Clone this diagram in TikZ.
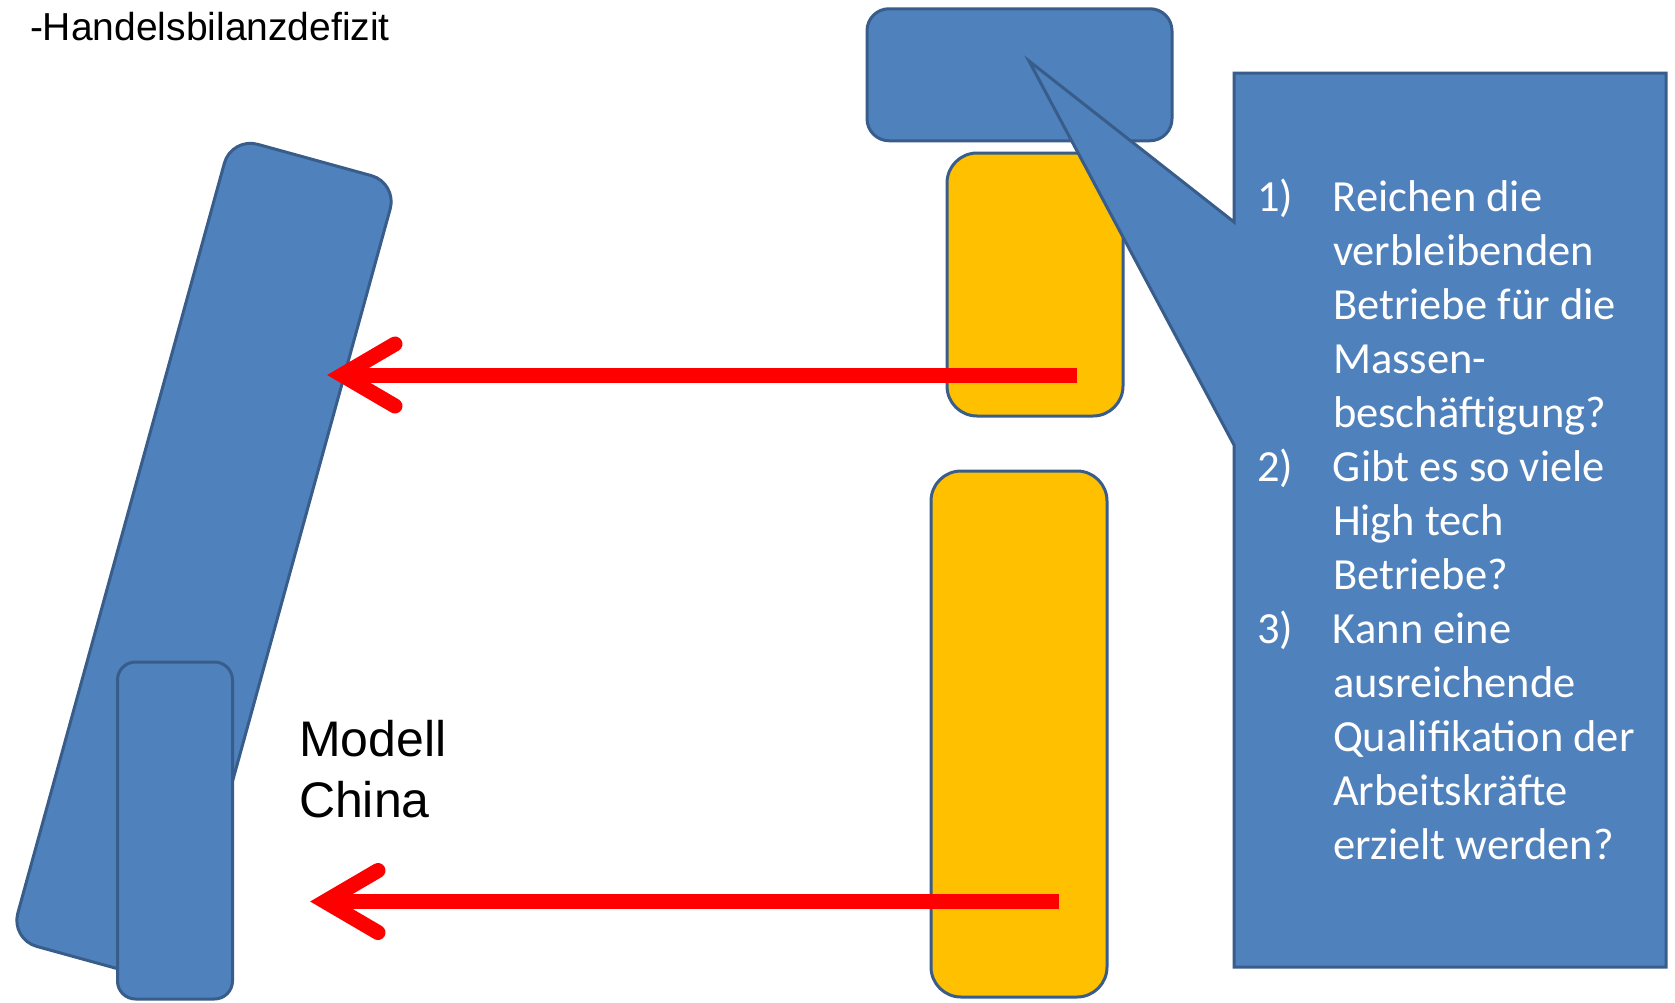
\documentclass[tikz,border=0pt]{standalone}
\usepackage{fontspec}
\setmainfont{Liberation Sans}
\newfontfamily\calloutfont{Carlito}
\definecolor{shapeblue}{HTML}{4F81BD}
\definecolor{edgeblue}{HTML}{385D8A}
\definecolor{amber}{HTML}{FFC000}
\definecolor{arrowred}{HTML}{FF0000}
\begin{document}
\begin{tikzpicture}[x=1pt,y=1pt,
  shapebox/.style={draw=edgeblue, line width=3pt, inner sep=0pt, outer sep=0pt},
  bluebox/.style={shapebox, fill=shapeblue},
  amberbox/.style={shapebox, fill=amber},
  shaft/.style={draw=arrowred, line width=15pt, line cap=butt},
  barb/.style={draw=arrowred, line width=15pt, line cap=round, line join=miter},
  plain/.style={inner sep=0pt, outer sep=0pt, anchor=base west}
]
% page
\useasboundingbox (0,0) rectangle (1675,-1002);
\fill[white] (0,0) rectangle (1675,-1002);

% heading
\node[plain, font=\fontsize{39}{46}\selectfont] (title) at (30,-40) {-Handelsbilanzdefizit};

% tilted block with the small block in front of it
\node[bluebox, rounded corners=27pt, minimum width=172pt, minimum height=832pt, rotate=-15.4] (tilt) at (204,-561) {};
\node[bluebox, rounded corners=18pt, minimum width=115pt, minimum height=337pt] (small) at (175,-830.5) {};

% right column of blocks
\node[bluebox, rounded corners=22pt, minimum width=305pt, minimum height=132pt] (top) at (1019.5,-74.75) {};
\node[amberbox, rounded corners=30pt, minimum width=176pt, minimum height=263pt] (yelA) at (1035,-284.5) {};
\node[amberbox, rounded corners=30pt, minimum width=176pt, minimum height=526pt] (yelB) at (1019,-734) {};

% label
\node[plain, font=\fontsize{50}{61}\selectfont] (model) at (299,-756)
  {\begin{tabular}[t]{@{}l@{}}Modell\\China\end{tabular}};

% arrows
\coordinate (s1) at (1077,-375);
\coordinate (t1) at (342,-375);
\coordinate (s2) at (1059,-901.5);
\coordinate (t2) at (325,-901.5);
\draw[shaft] (s1) -- (t1);
\draw[barb] ([shift={(53,31)}]t1) -- (t1) -- ([shift={(53,-31)}]t1);
\draw[shaft] (s2) -- (t2);
\draw[barb] ([shift={(53,31)}]t2) -- (t2) -- ([shift={(53,-31)}]t2);

% speech callout
\coordinate (cNW) at (1234,-73);
\coordinate (cNE) at (1666,-73);
\coordinate (cSE) at (1666,-967);
\coordinate (cSW) at (1234,-967);
\coordinate (pLow) at (1234,-445);
\coordinate (pTip) at (1029,-61);
\coordinate (pUp) at (1234,-222);
\filldraw[fill=shapeblue, draw=edgeblue, line width=3pt, line join=miter]
  (cNW) -- (cNE) -- (cSE) -- (cSW) -- (pLow) -- (pTip) -- (pUp) -- cycle;

\node[plain, text=white, font=\calloutfont\fontsize{44.5}{54}\selectfont] (questions) at (1257,-211.5)
  {\begin{tabular}[t]{@{}l@{}l@{}}
   \makebox[76pt][l]{1)} & Reichen die\\
   & verbleibenden\\
   & Betriebe für die\\
   & Massen-\\
   & beschäftigung?\\
   \makebox[76pt][l]{2)} & Gibt es so viele\\
   & High tech\\
   & Betriebe?\\
   \makebox[76pt][l]{3)} & Kann eine\\
   & ausreichende\\
   & Qualifikation der\\
   & Arbeitskräfte\\
   & erzielt werden?
  \end{tabular}};
\end{tikzpicture}
\end{document}
